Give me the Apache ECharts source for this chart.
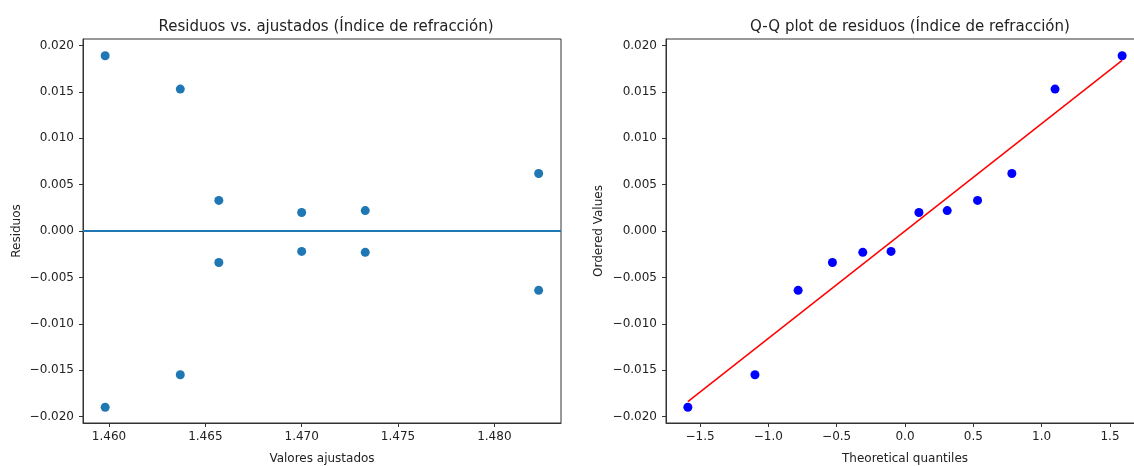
<!DOCTYPE html>
<html>
<head>
<meta charset="utf-8">
<script src="https://cdn.jsdelivr.net/npm/echarts@6/dist/echarts.min.js"></script>
<style>
html, body { margin: 0; padding: 0; background: #fff; }
#main { width: 1134px; height: 466px; }
</style>
</head>
<body>
<div id="main"></div>
<script>
// residuos vs ajustados
var ajustados = [1.4598, 1.4598, 1.4637, 1.4637, 1.4657, 1.4657, 1.4700, 1.4700, 1.4733, 1.4733, 1.4823, 1.4823];
var residuos = [0.0189, -0.0190, 0.0153, -0.0155, 0.0033, -0.0034, 0.0020, -0.0022, 0.0022, -0.0023, 0.0062, -0.0064];

// Q-Q
var cuantiles = [-1.589, -1.098, -0.782, -0.531, -0.309, -0.102, 0.102, 0.309, 0.531, 0.782, 1.098, 1.589];
var ordenados = [-0.0190, -0.0155, -0.0064, -0.0034, -0.0023, -0.0022, 0.0020, 0.0022, 0.0033, 0.0062, 0.0153, 0.0189];
var rectaX = [-1.589, 1.589];
var rectaY = [-0.0184, 0.0184];

// ticks
var ticksAjustados = [1.460, 1.465, 1.470, 1.475, 1.480];
var ticksResiduos = [-0.020, -0.015, -0.010, -0.005, 0.000, 0.005, 0.010, 0.015, 0.020];
var ticksCuantiles = [-1.5, -1.0, -0.5, 0.0, 0.5, 1.0, 1.5];

var fuente = 'DejaVu Sans';
var texto = '#222';
var linea = '#333';

function menos(s){
  return s.replace('-', '\u2212');
}

function eje(tipo, min, max, ticks, dec, nombre, gap, idx){
  return {
    type: 'value',
    gridIndex: idx,
    min: min,
    max: max,
    name: nombre,
    nameLocation: 'middle',
    nameGap: gap,
    nameTextStyle: { color: texto, fontFamily: fuente, fontSize: 12 },
    axisLine: { show: true, onZero: false, lineStyle: { color: linea, width: 1 } },
    axisTick: { show: true, length: 4, lineStyle: { color: linea, width: 1 }, customValues: ticks },
    axisLabel: {
      color: texto, fontFamily: fuente, fontSize: 12, margin: tipo == 'x' ? 8 : 9,
      customValues: ticks,
      formatter: function(v){ return menos(v.toFixed(dec)); }
    },
    splitLine: { show: false }
  };
}

var puntos = [];
for (var i = 0; i < ajustados.length; i++) {
  puntos.push([ajustados[i], residuos[i]]);
}
var qq = [];
for (var j = 0; j < cuantiles.length; j++) {
  qq.push([cuantiles[j], ordenados[j]]);
}
var recta = [];
for (var k = 0; k < rectaX.length; k++) {
  recta.push([rectaX[k], rectaY[k]]);
}

var myChart = echarts.init(document.getElementById('main'));
var option = {
  animation: false,
  backgroundColor: '#fff',
  title: [
    {
      text: 'Residuos vs. ajustados (Índice de refracción)',
      left: 321, top: 15, textAlign: 'center',
      textStyle: { color: texto, fontFamily: fuente, fontSize: 15, fontWeight: 'normal' }
    },
    {
      text: 'Q-Q plot de residuos (Índice de refracción)',
      left: 905, top: 15, textAlign: 'center',
      textStyle: { color: texto, fontFamily: fuente, fontSize: 15, fontWeight: 'normal' }
    }
  ],
  grid: [
    { left: 83, top: 39, width: 478, height: 384, show: true, borderColor: linea, borderWidth: 1, outerBoundsMode: 'none' },
    { left: 666, top: 39, width: 478, height: 384, show: true, borderColor: linea, borderWidth: 1, outerBoundsMode: 'none' }
  ],
  xAxis: [
    eje('x', 1.45865, 1.48346, ticksAjustados, 3, 'Valores ajustados', 30, 0),
    eje('x', -1.749, 1.749, ticksCuantiles, 1, 'Theoretical quantiles', 30, 1)
  ],
  yAxis: [
    eje('y', -0.0207, 0.0207, ticksResiduos, 3, 'Residuos', 60, 0),
    eje('y', -0.0207, 0.0207, ticksResiduos, 3, 'Ordered Values', 61, 1)
  ],
  series: [
    {
      type: 'scatter',
      xAxisIndex: 0, yAxisIndex: 0,
      data: puntos,
      symbolSize: 9,
      itemStyle: { color: '#1f77b4', opacity: 1 },
      markLine: {
        silent: true,
        symbol: ['none', 'none'],
        label: { show: false },
        lineStyle: { color: '#1f77b4', width: 1.8, type: 'solid' },
        data: [{ yAxis: 0 }]
      }
    },
    {
      type: 'scatter',
      xAxisIndex: 1, yAxisIndex: 1,
      data: qq,
      symbolSize: 9,
      itemStyle: { color: '#0000ff', opacity: 1 }
    },
    {
      type: 'line',
      xAxisIndex: 1, yAxisIndex: 1,
      data: recta,
      symbol: 'none',
      lineStyle: { color: '#ff0000', width: 1.5 }
    }
  ]
};
myChart.setOption(option);
window.addEventListener('resize', function () {
  myChart.resize();
});
</script>
</body>
</html>
